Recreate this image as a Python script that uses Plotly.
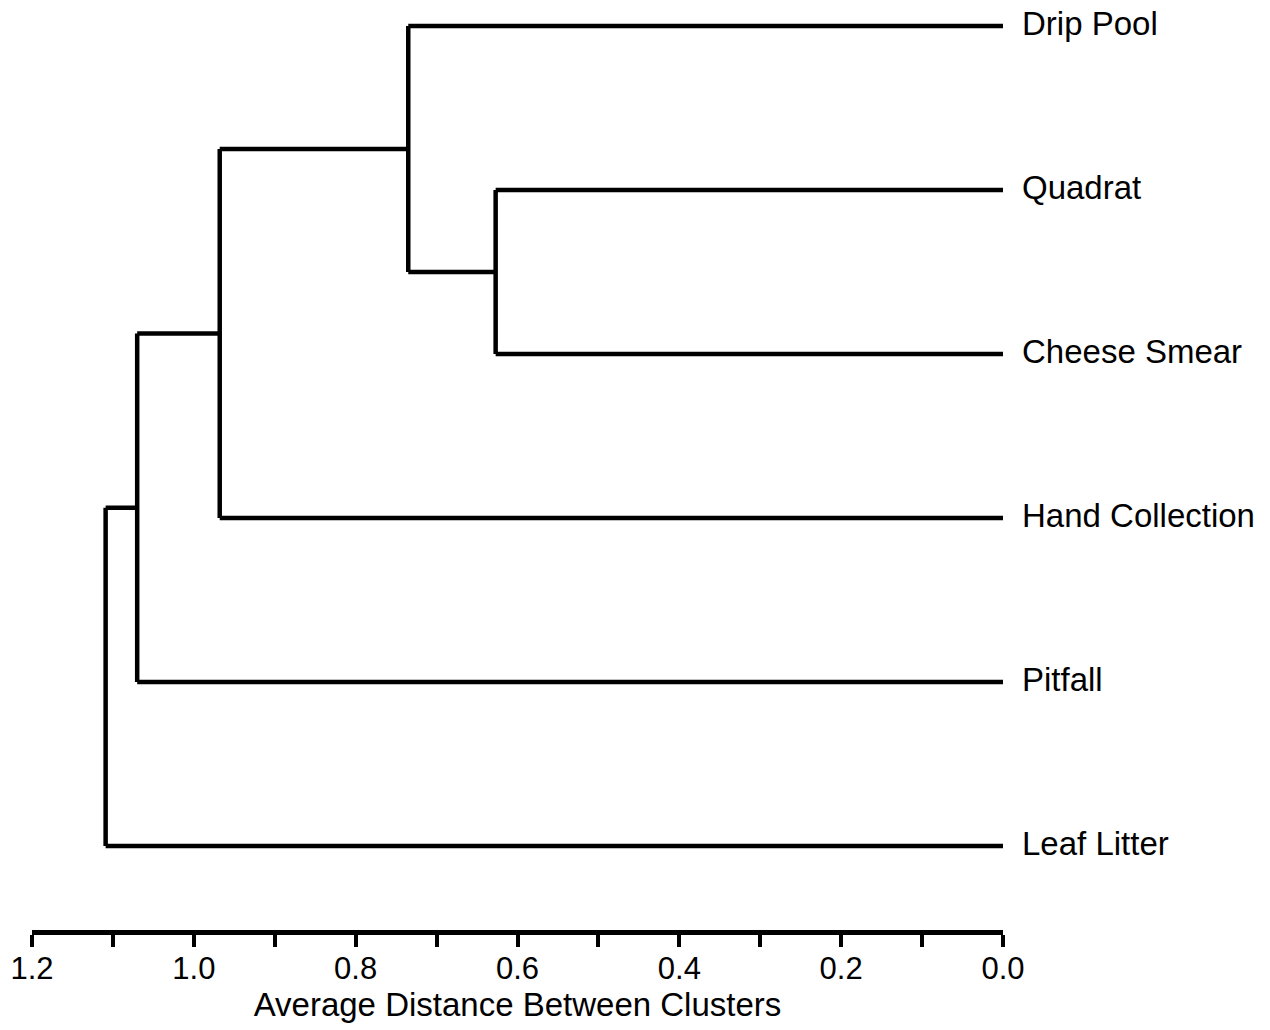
import plotly.graph_objects as go

# Leaves (top to bottom) and linkage (scipy-like: leaves 0..5, clusters 6..)
leaves = ["Drip Pool", "Quadrat", "Cheese Smear", "Hand Collection", "Pitfall", "Leaf Litter"]
merge_a = [1, 0, 7, 8, 9]
merge_b = [2, 6, 3, 4, 5]
merge_height = [0.627, 0.735, 0.968, 1.070, 1.109]

axis_title = "Average Distance Between Clusters"

n = len(leaves)
node_y = {i: float(n - 1 - i) for i in range(n)}
node_h = {i: 0.0 for i in range(n)}
xs, ys = [], []
for k, (a, b, h) in enumerate(zip(merge_a, merge_b, merge_height)):
    nid = n + k
    for c in (a, b):
        xs += [node_h[c], h, None]
        ys += [node_y[c], node_y[c], None]
    xs += [h, h, None]
    ys += [node_y[a], node_y[b], None]
    node_y[nid] = (node_y[a] + node_y[b]) / 2
    node_h[nid] = h

FONT = "Liberation Sans, Arial, sans-serif"

fig = go.Figure()
fig.add_trace(go.Scatter(x=xs, y=ys, mode="lines",
                         line=dict(color="black", width=4.5),
                         hoverinfo="skip", showlegend=False, cliponaxis=False))

for i, name in enumerate(leaves):
    fig.add_annotation(x=1, xref="paper", y=node_y[i], yref="y", text=name,
                       showarrow=False, xanchor="left", yanchor="middle",
                       xshift=17, yshift=3, font=dict(family=FONT, size=33, color="black"))

fig.update_layout(
    width=1270, height=1030,
    margin=dict(l=32, r=267, t=0, b=100),
    paper_bgcolor="white", plot_bgcolor="white",
    font=dict(family=FONT, size=30, color="black"),
    xaxis=dict(range=[1.2, 0], tick0=0, dtick=0.2, tickformat=".1f",
               showgrid=False, zeroline=False,
               showline=True, linecolor="black", linewidth=4.5,
               ticks="outside", ticklen=12, tickwidth=4, tickcolor="black",
               minor=dict(dtick=0.1, ticks="outside", ticklen=12, tickwidth=4,
                          tickcolor="black", showgrid=False),
               ticklabelstandoff=-5,
               tickfont=dict(family=FONT, size=31, color="black"),
               title=dict(text=axis_title, standoff=6,
                          font=dict(family=FONT, size=33, color="black"))),
    yaxis=dict(range=[-0.512, 5.1585], visible=False, showgrid=False, zeroline=False),
)

fig.write_html("out.html")
